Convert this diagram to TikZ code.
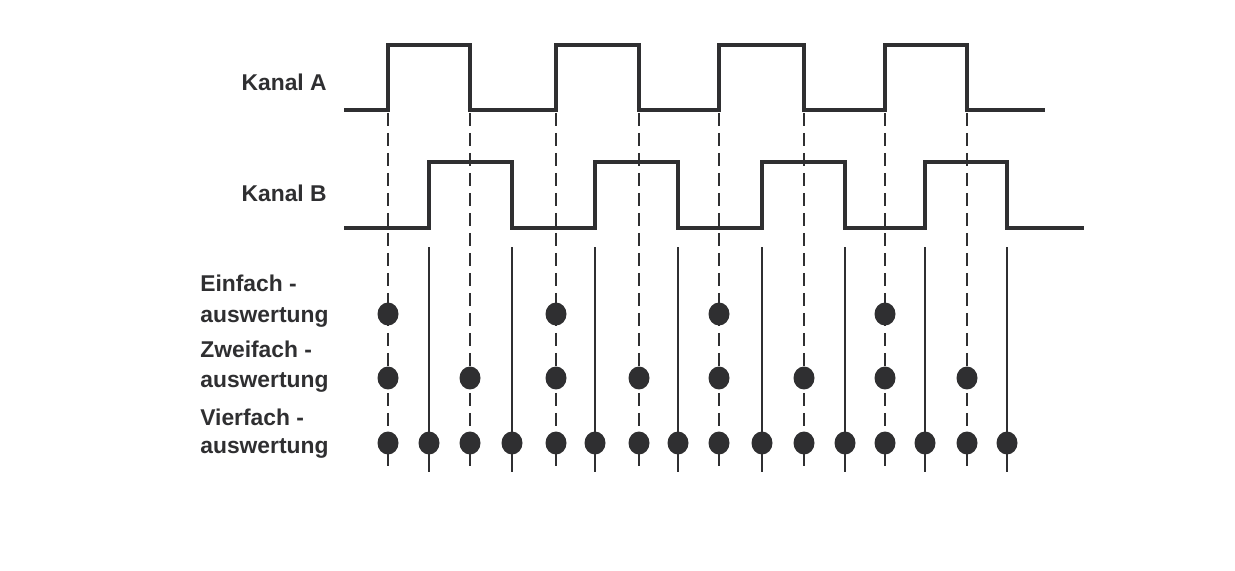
\documentclass[tikz,border=0pt]{standalone}
\usepackage{fontspec}
\setmainfont{Liberation Sans}
\usetikzlibrary{positioning}
\usetikzlibrary{shapes.geometric}
\definecolor{ink}{RGB}{47,47,49}

\begin{document}
\begin{tikzpicture}[x=0.02cm,y=-0.02cm,
        signal/.style={ink,line width=2.3pt,miter limit=4},
        edgeA/.style={ink,line width=1.5pt,dash pattern=on 0.27cm off 0.13cm},
        edgeB/.style={ink,line width=1.3pt},
        dot/.style={ellipse,fill=ink,inner sep=0pt,minimum width=0.42cm,minimum height=0.46cm},
        lbl/.style={font=\fontsize{13}{16}\selectfont\bfseries,text=ink,inner sep=0pt}]
        \useasboundingbox (0,0) rectangle (1235,571);
        % Kanal A und Kanal B
        \draw[signal] (344,110) -| (388,45) -| (470,110) -| (556,45) -| (639,110)
            -| (719,45) -| (804,110) -| (885,45) -| (967,110) -- (1045,110);
        \draw[signal] (344,228) -| (429,162) -| (512,228) -| (595,162) -| (678,228)
            -| (762,162) -| (845,228) -| (925,162) -| (1007,228) -- (1084,228);
        \node[lbl,anchor=base east] (kanalA) at (327,91) {Kanal A};
        \node[lbl,anchor=base east] (kanalB) at (327,201) {Kanal B};
        % Flanken von A
        \foreach \x [count=\i] in {388,470,556,639,719,804,885,967} {
            \coordinate (a\i) at (\x,113);
            \coordinate (a\i end) at (\x,471);
            \draw[edgeA] (a\i) -- (a\i end);
            \ifodd\i \node[dot] (ein\i) at (\x,314) {}; \fi
            \node[dot] (zwei\i) at (\x,378) {};
            \node[dot] (vierA\i) at (\x,443) {};
        }
        % Flanken von B
        \foreach \x [count=\i] in {429,512,595,678,762,845,925,1007} {
            \coordinate (b\i) at (\x,247);
            \coordinate (b\i end) at (\x,472);
            \draw[edgeB] (b\i) -- (b\i end);
            \node[dot] (vierB\i) at (\x,443) {};
        }
        % Beschriftung
        \node[lbl,anchor=base west] (einfach) at (200,291) {Einfach -};
        \node[lbl,anchor=base west] (einfachB) at ([yshift=-0.64cm]einfach.base west) {auswertung};
        \node[lbl,anchor=base west] (zweifach) at (200,357) {Zweifach -};
        \node[lbl,anchor=base west] (zweifachB) at ([yshift=-0.62cm]zweifach.base west) {auswertung};
        \node[lbl,anchor=base west] (vierfach) at (200,425) {Vierfach -};
        \node[lbl,anchor=base west] (vierfachB) at ([yshift=-0.58cm]vierfach.base west) {auswertung};
    \end{tikzpicture}
\end{document}
